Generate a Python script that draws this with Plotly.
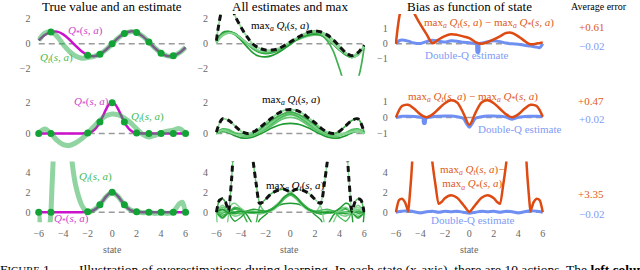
import plotly.graph_objects as go

W, H = 640, 270
SERIF = "Liberation Serif"

# ---------------- data ----------------
X = [-6, -5.5, -5, -4.5, -4, -3.5, -3, -2.5, -2, -1.5, -1, -0.5, 0,
     0.5, 1, 1.5, 2, 2.5, 3, 3.5, 4, 4.5, 5, 5.5, 6]
X_TICKS = [-6, -4, -2, 0, 2, 4, 6]

# sampled states (dots)
SAMPLE_X_R1 = [-5, -2, -1, 0, 1, 2, 3, 4, 5]
SAMPLE_Y_R1 = [0.96, -0.91, -0.84, 0.0, 0.84, 0.91, 0.14, -0.76, -0.96]
SAMPLE_X_R23 = [-6, -5, -2, -1, 0, 1, 2, 3, 4, 5, 6]
SAMPLE_Y_R23 = [0, 0, 0.04, 0.74, 2.0, 0.74, 0.04, 0, 0, 0, 0]

# true values
TRUE_R1 = [0.28, 0.71, 0.96, 0.98, 0.76, 0.35, -0.14, -0.6, -0.91, -1.0, -0.84, -0.48, 0.0,
           0.48, 0.84, 1.0, 0.91, 0.6, 0.14, -0.35, -0.76, -0.98, -0.96, -0.71, -0.28]
XG = [-6, -5, -4, -3, -2.5, -2, -1.75, -1.5, -1.25, -1, -0.75, -0.5, -0.25, 0,
      0.25, 0.5, 0.75, 1, 1.25, 1.5, 1.75, 2, 2.5, 3, 4, 5, 6]
TRUE_G = [0, 0, 0, 0, 0, 0.04, 0.09, 0.21, 0.42, 0.74, 1.14, 1.56, 1.88, 2.0,
          1.88, 1.56, 1.14, 0.74, 0.42, 0.21, 0.09, 0.04, 0, 0, 0, 0, 0]

# single estimate (left column)
EST_R1 = [0.28, 0.85, 0.96, 0.6, -0.05, -0.6, -0.98, -1.15, -1.1, -1.0, -0.82, -0.47, 0.0,
          0.47, 0.83, 0.98, 0.9, 0.6, 0.15, -0.34, -0.75, -0.97, -0.97, -0.72, -0.28]
EST_R2 = [0.05, 0.3, 0.0, -0.45, -0.72, -0.78, -0.62, -0.35, 0.02, 0.45, 0.85, 1.15, 1.27,
          1.2, 1.0, 0.7, 0.3, -0.05, -0.22, -0.12, 0.05, 0.15, 0.22, 0.32, 0.0]
EST_R3_X = [-6, -5.9, -5.75, -5.5, -5.25, -5.1, -5, -4.9, -4.75, -4.5, -4, -3.5, -3.25, -3,
            -2.75, -2.5, -2.25, -2, -1.5, -1, -0.5, 0, 0.5, 1, 1.5, 2, 2.5, 3, 3.5, 4, 4.5,
            5, 5.25, 5.5, 5.75, 6]
EST_R3_Y = [0, -1.5, -3.5, -5, -4, -1.5, 0, 3, 7, 12, 15, 8, 4.8, 2.8,
            1.6, 0.75, 0.25, 0.02, 0.22, 0.75, 1.55, 1.98, 1.55, 0.75, 0.22, 0.03, -0.05, 0.0,
            -0.12, -0.05, -0.12, 0.0, 0.45, 0.85, 1.0, 0.0]

# all estimates (middle column), row 1
ALL_R1 = [
    [0.15, 0.85, 0.98, 0.85, 0.45, 0.0, -0.42, -0.7, -0.78, -0.72, -0.55, -0.25, 0.08,
     0.4, 0.65, 0.82, 0.9, 0.82, 0.5, 0.0, -0.5, -0.9, -1.1, -0.85, -0.2],
    [0.1, 0.75, 0.92, 0.8, 0.45, 0.05, -0.35, -0.62, -0.7, -0.65, -0.5, -0.25, 0.05,
     0.35, 0.55, 0.72, 0.8, 0.78, 0.5, 0.05, -0.45, -0.85, -1.08, -0.9, -0.15],
    [0.05, 0.65, 0.85, 0.75, 0.42, 0.05, -0.3, -0.55, -0.62, -0.58, -0.45, -0.22, 0.02,
     0.28, 0.48, 0.62, 0.7, 0.68, 0.45, 0.05, -0.4, -0.8, -1.02, -0.88, -0.1],
    [0.2, 0.9, 1.0, 0.75, 0.3, -0.25, -0.75, -1.0, -1.05, -0.95, -0.72, -0.4, -0.05,
     0.3, 0.55, 0.72, 0.78, 0.7, 0.4, -0.05, -0.5, -0.85, -1.0, -0.8, -0.2],
    [0.1, 0.7, 0.9, 0.78, 0.42, 0.02, -0.38, -0.6, -0.65, -0.6, -0.45, -0.2, 0.12,
     0.42, 0.72, 0.95, 1.04, 0.95, 0.72, 0.32, -0.2, -0.72, -1.05, -0.88, -0.15],
    [0.25, 2.9, 3.8, 2.3, 1.35, 0.55, -0.05, -0.35, -0.5, -0.5, -0.45, -0.2, 0.1,
     0.4, 0.7, 0.9, 0.95, 0.8, 0.45, 0.0, -0.45, -0.8, -0.95, -0.7, -0.25],
    [0.15, 0.8, 0.95, 0.8, 0.45, 0.05, -0.35, -0.6, -0.68, -0.6, -0.45, -0.2, 0.1,
     0.4, 0.62, 0.8, 0.85, 0.7, 0.25, -0.6, -2.0, -3.3, -3.6, -2.8, -0.3],
    [0.1, 0.7, 0.88, 0.78, 0.45, 0.05, -0.3, -0.55, -0.62, -0.55, -0.38, -0.12, 0.15,
     0.45, 0.7, 0.88, 0.98, 0.92, 0.7, 0.3, -0.2, -0.7, -1.05, -0.9, -0.2],
]
MAX_R1 = [0.25, 2.9, 3.8, 2.3, 1.35, 0.55, -0.05, -0.35, -0.5, -0.5, -0.4, -0.15, 0.15,
          0.45, 0.72, 0.95, 1.04, 0.95, 0.72, 0.32, -0.2, -0.7, -0.95, -0.7, -0.1]

# all estimates, row 2
ALL_R2 = [
    [0.0, 0.2, 0.15, 0.0, -0.1, -0.12, -0.05, 0.1, 0.35, 0.65, 0.95, 1.2, 1.3,
     1.2, 0.95, 0.65, 0.35, 0.1, -0.05, -0.12, -0.1, 0.0, 0.15, 0.2, 0.0],
    [0.05, 0.3, 0.25, 0.05, -0.1, -0.15, -0.1, 0.05, 0.3, 0.6, 0.9, 1.12, 1.22,
     1.12, 0.9, 0.6, 0.3, 0.05, -0.1, -0.15, -0.1, 0.05, 0.25, 0.3, 0.05],
    [0.0, 0.1, 0.1, 0.05, -0.02, -0.05, 0.0, 0.15, 0.4, 0.72, 1.02, 1.25, 1.35,
     1.25, 1.02, 0.72, 0.4, 0.15, 0.0, -0.05, -0.02, 0.05, 0.1, 0.1, 0.0],
    [0.0, 0.15, 0.05, -0.15, -0.28, -0.3, -0.22, -0.05, 0.15, 0.35, 0.52, 0.62, 0.65,
     0.62, 0.52, 0.35, 0.15, -0.05, -0.22, -0.3, -0.28, -0.15, 0.05, 0.15, 0.0],
    [0.0, 0.25, 0.2, 0.0, -0.15, -0.2, -0.12, 0.05, 0.25, 0.5, 0.78, 0.98, 1.05,
     0.98, 0.78, 0.5, 0.25, 0.05, -0.12, -0.2, -0.15, 0.0, 0.2, 0.25, 0.0],
    [0.08, 0.95, 0.85, 0.5, 0.15, 0.0, 0.05, 0.25, 0.55, 0.85, 1.1, 1.3, 1.4,
     1.3, 1.1, 0.85, 0.55, 0.25, 0.05, -0.05, -0.05, 0.0, 0.1, 0.15, 0.0],
    [0.0, 0.15, 0.1, 0.0, -0.05, -0.05, 0.05, 0.25, 0.55, 0.85, 1.1, 1.3, 1.4,
     1.3, 1.1, 0.85, 0.55, 0.25, 0.05, 0.0, 0.15, 0.5, 0.85, 0.95, 0.08],
    [0.0, 0.2, 0.1, -0.05, -0.1, -0.05, 0.1, 0.35, 0.7, 1.0, 1.3, 1.5, 1.55,
     1.5, 1.3, 1.0, 0.7, 0.35, 0.1, -0.05, -0.1, -0.05, 0.1, 0.2, 0.0],
]
MAX_R2 = [0.08, 0.95, 0.85, 0.5, 0.15, 0.0, 0.1, 0.35, 0.7, 1.0, 1.3, 1.5, 1.55,
          1.5, 1.3, 1.0, 0.7, 0.35, 0.1, 0.0, 0.15, 0.5, 0.85, 0.95, 0.08]

# all estimates, row 3 (each with its own states)
R3_BUNDLE = [
    [0.0, 0.25, 0.0, -0.15, -0.05, 0.1, 0.05, -0.05, 0.05, 0.3, 0.8, 1.45, 1.8,
     1.45, 0.8, 0.3, 0.05, -0.05, 0.05, 0.1, -0.05, -0.15, 0.0, 0.25, 0.0],
    [0.0, -0.6, 0.0, 0.3, 0.1, -0.05, 0.0, 0.05, 0.1, 0.35, 0.85, 1.5, 1.9,
     1.5, 0.85, 0.35, 0.1, 0.05, 0.0, -0.05, 0.1, 0.3, 0.0, -0.6, 0.0],
    [0.0, 0.7, 0.0, -0.4, -0.2, 0.05, 0.1, 0.0, 0.02, 0.25, 0.72, 1.35, 1.7,
     1.35, 0.72, 0.25, 0.02, 0.0, 0.1, 0.05, -0.2, -0.4, 0.0, 0.7, 0.0],
]
R3_LOW_X = [-6, -5.5, -5, -4.5, -4, -3.5, -3, -2.75, -2.5, -2, -1.5, -1, -0.5, 0,
            0.5, 1, 1.5, 2, 2.5, 2.75, 3, 3.5, 4, 4.5, 5, 5.5, 6]
R3_LOW_Y = [0, -0.5, 0, 0.4, 0.3, -0.3, -1.3, -1.5, -0.8, -0.25, 0.3, 0.65, 0.85, 0.9,
            0.85, 0.65, 0.3, -0.25, -0.8, -1.5, -1.3, -0.3, 0.3, 0.4, 0, -0.5, 0]
R3_WL_X = [-6, -5.5, -5.25, -5, -4.9, -4.75, -4.5, -4, -3.5, -3.25, -3, -2.75, -2.5, -2.25,
           -2, -1.5, -1, -0.5, 0, 0.5, 1, 1.5, 2, 2.5, 3, 3.5, 4, 4.5, 5, 5.5, 6]
R3_WL_Y = [0, 0.5, 0.3, 0.05, 1.2, 3.5, 8, 12, 10, 7.5, 5.0, 2.7, 0.9, 0.3,
           0.0, 0.15, 0.6, 1.3, 1.75, 1.4, 0.7, 0.2, 0.0, -0.1, 0.0, 0.05, -0.05, 0.0, 0.05, 0.0, 0.0]
R3_WR_X = [-6, -5.5, -5, -4.5, -4, -3.5, -3, -2.5, -2, -1.5, -1, -0.5, 0, 0.5, 1, 1.5,
           2, 2.25, 2.5, 2.75, 3, 3.25, 3.5, 4, 4.5, 4.75, 4.9, 5, 5.25, 5.5, 6]
R3_WR_Y = [0.0, 0.0, 0.05, 0.0, -0.05, 0.05, 0.0, -0.1, 0.0, 0.2, 0.7, 1.4, 1.75, 1.3, 0.6, 0.15,
           0.0, 0.3, 0.9, 2.7, 5.0, 7.5, 10, 12, 8, 3.5, 1.2, 0.05, 0.3, 0.5, 0]
R3_HL_X = [-6, -5.5, -5, -4.5, -4, -3.5, -3, -2.75, -2.5, -2.25, -2, -1.5, -1, -0.5, 0,
           0.5, 1, 1.5, 2, 2.5, 3, 3.5, 4, 4.5, 5, 5.5, 6]
R3_HL_Y = [0, -0.3, 0.0, 0.5, 0.2, -1.0, -2.2, -1.0, 0.5, 1.0, 1.3, 1.9, 2.2, 2.3, 2.05,
           1.5, 0.8, 0.25, -0.05, -0.2, -0.1, 0.05, 0.1, 0.0, 0.0, 0.1, 0.0]
R3_HR_X = [-6, -5.5, -5, -4.5, -4, -3.5, -3, -2.5, -2, -1.5, -1, -0.5, 0, 0.5, 1, 1.5,
           2, 2.25, 2.5, 2.75, 3, 3.5, 4, 4.5, 5, 5.5, 6]
R3_HR_Y = [0.0, 0.1, 0.0, 0.0, 0.1, 0.05, -0.1, -0.2, -0.05, 0.25, 0.8, 1.5, 2.05, 2.3, 2.2, 1.9,
           1.3, 1.0, 0.5, -1.0, -2.2, -1.0, 0.2, 0.5, 0.0, -0.3, 0]
R3_EL_X = [-6, -5.75, -5.5, -5.25, -5, -4.75, -4.5, -4, -3.5, -3, -2.5, -2, -1.5, -1, -0.5,
           0, 0.5, 1, 1.5, 2, 2.5, 3, 3.5, 4, 4.5, 5, 5.5, 6]
R3_EL_Y = [0.0, 1.2, 1.35, 1.0, 0.1, -0.6, -0.9, -0.5, 0.1, 0.3, 0.2, 0.1, 0.3, 0.75, 1.4,
           1.75, 1.4, 0.75, 0.25, 0.0, -0.05, 0.05, 0.0, -0.1, 0.0, 0.1, -0.1, 0.0]
R3_ER_X = [-6, -5.5, -5, -4.5, -4, -3.5, -3, -2.5, -2, -1.5, -1, -0.5, 0, 0.5, 1, 1.5,
           2, 2.5, 3, 3.5, 4, 4.5, 4.75, 5, 5.25, 5.5, 5.75, 6]
R3_ER_Y = [0.0, -0.1, 0.1, 0.0, -0.1, 0.0, 0.05, -0.05, 0.0, 0.25, 0.75, 1.4, 1.75, 1.4, 0.75, 0.3,
           0.1, 0.2, 0.3, 0.1, -0.5, -0.9, -0.6, 0.1, 1.0, 1.35, 1.2, 0.0]
R3_D1_X = [-6, -5.9, -5.75, -5.5, -5.25, -5, -4.75, -4.5, -4, -3.5, -3, -2.5, -2, -1.5, -1,
           -0.5, 0, 0.5, 1, 1.5, 2, 2.5, 3, 3.5, 4, 4.5, 5, 5.5, 6]
R3_D1_Y = [0, -1.5, -3, -4, -3, -0.2, 0.8, 0.9, 0.4, 0.0, -0.05, 0.0, 0.05, 0.25, 0.75,
           1.5, 1.85, 1.5, 0.75, 0.25, 0.05, 0.0, -0.05, 0.0, 0.1, 0.0, -0.1, 0.3, 0.0]
R3_D2_X = [-6, -5.5, -5, -4.5, -4, -3.5, -3, -2.5, -2, -1.5, -1, -0.5, 0, 0.5, 1, 1.5,
           2, 2.5, 3, 3.5, 4, 4.5, 4.75, 5, 5.25, 5.5, 5.75, 5.9, 6]
R3_D2_Y = [0.0, 0.3, -0.1, 0.0, 0.1, 0.0, -0.05, 0.0, 0.05, 0.25, 0.75, 1.5, 1.85, 1.5, 0.75, 0.25,
           0.05, 0.0, -0.05, 0.0, 0.4, 0.9, 0.8, -0.2, -3, -4, -3, -1.5, 0]
MAX_R3_X = [-6, -5.75, -5.5, -5.25, -5, -4.9, -4.75, -4.5, -4, -3.5, -3.25, -3, -2.75, -2.5,
            -2.25, -2, -1.5, -1, -0.5, 0, 0.5, 1, 1.5, 2, 2.25, 2.5, 2.75, 3, 3.25, 3.5,
            4, 4.5, 4.75, 4.9, 5, 5.25, 5.5, 5.75, 6]
MAX_R3_Y = [0, 1.2, 1.35, 1.0, 0.1, 1.2, 3.5, 8, 12, 10, 7.5, 5.0, 2.7, 0.9,
            1.0, 1.3, 1.9, 2.2, 2.3, 2.05, 2.3, 2.2, 1.9, 1.3, 1.0, 0.9, 2.7, 5.0, 7.5, 10,
            12, 8, 3.5, 1.2, 0.1, 1.0, 1.35, 1.2, 0]

# bias (right column)
BIAS_R1 = [0.0, 2.6, 3.2, 2.05, 1.3, 0.65, 0.04, 0.3, 0.52, 0.64, 0.6, 0.5, 0.38,
           0.12, 0.0, 0.12, 0.3, 0.5, 0.72, 0.73, 0.5, 0.2, -0.03, 0.02, 0.1]
DQ_R1_X = [-6, -5.75, -5.5, -5, -4.5, -4, -3.5, -3, -2.5, -2, -1.5, -1, -0.5, 0, 0.5, 0.58,
           0.63, 0.77, 0.82, 1, 1.5, 2, 2.5, 3, 3.5, 4, 4.5, 5, 5.5, 5.75, 6]
DQ_R1_Y = [0, 0.2, 0.25, 0.18, 0.05, 0.02, 0.15, 0.24, 0.18, 0.12, 0.2, 0.18, 0.1, 0.08, 0.02, 0.0,
           -0.55, -0.55, 0.0, 0.05, 0.15, 0.2, 0.15, 0.05, 0.0, -0.02, -0.1, -0.15, -0.22, -0.25, 0.0]
BIAS_R2 = [0.0, 0.72, 0.8, 0.55, 0.2, 0.02, 0.2, 0.55, 0.9, 1.08, 0.95, 0.3, -0.45,
           0.3, 0.95, 1.08, 0.9, 0.55, 0.2, 0.02, 0.2, 0.55, 0.8, 0.72, 0.05]
DQ_R2_X = [-6, -5.5, -5, -4.5, -4, -3.8, -3.75, -3.6, -3.55, -3, -2.5, -2, -1.5, -1, -0.5,
           -0.25, 0, 0.25, 0.5, 1, 1.5, 2, 2.5, 3, 3.5, 4, 4.5, 5, 5.5, 6]
DQ_R2_Y = [0, 0.08, 0.08, 0.06, 0.02, 0.0, -0.35, -0.35, -0.05, 0.05, 0.08, 0.1, 0.1, 0.05, -0.05,
           -0.35, -0.6, -0.35, -0.05, 0.05, 0.1, 0.1, 0.08, 0.03, -0.1, 0.02, 0.06, 0.08, 0.08, 0.06]
BIAS_R3_Y = [0, 1.2, 1.35, 1.0, 0.1, 1.2, 3.5, 8, 12, 10, 7.5, 4.8, 2.6, 0.85,
             1.05, 1.4, 1.7, 1.45, 0.75, 0.03, 0.75, 1.45, 1.7, 1.4, 1.05, 0.85, 2.6, 4.8, 7.5, 10,
             12, 8, 3.5, 1.2, 0.1, 1.0, 1.35, 1.2, 0]
DQ_R3 = [0, 0.1, 0.15, 0.05, -0.08, 0.05, 0.1, 0.0, 0.1, 0.05, 0.1, 0.0, -0.1,
         0.0, 0.1, 0.05, 0.1, 0.0, 0.1, 0.05, -0.08, 0.05, 0.15, 0.1, 0.0]

AVG_ERR_MAX = ["+0.61", "+0.47", "+3.35"]
AVG_ERR_DQ = ["\u22120.02", "+0.02", "\u22120.02"]
TITLES = ["True value and an estimate", "All estimates and max", "Bias as function of state"]

# ---------------- layout geometry ----------------
COLS_PX = [(35, 183), (214, 363), (395, 543)]
ROWS_PX = [(13, 75), (95, 150), (161, 222)]
YRANGES = [[[-2.56, 2.4], [-2.56, 2.4], [-2.133, 2.0]],
           [[-1.097, 2.452], [-1.097, 2.452], [-2.0625, 1.375]],
           [[-1.0, 5.1], [-1.0, 5.1], [-1.0, 5.1]]]
YTICKS = [[[-2, 0, 2], [-2, 0, 2], [-1, 0, 1]],
          [[0, 2], [0, 2], [-1, 0, 1]],
          [[0, 2, 4], [0, 2, 4], [0, 2, 4]]]

MAG = "#cc11cc"
EST = "rgba(34,170,68,0.5)"
DOT = "#13a236"
ORANGE = "#dd4a12"
BLUE = "#6f8ff2"
GREENS = ["#2ca43a", "#4cbc5a", "#7dd08a", "#1f9a30", "#63c672", "#92d99c", "#3fb04d", "#85d592"]


def minus(v):
    return str(v).replace("-", "\u2212")


fig = go.Figure()
layout = dict(width=W, height=H, margin=dict(l=0, r=0, t=0, b=0),
              paper_bgcolor="white", plot_bgcolor="white", showlegend=False,
              font=dict(family=SERIF, size=11, color="black"))

for r in range(3):
    for c in range(3):
        i = r * 3 + c + 1
        a, b = COLS_PX[c]
        ppu = (b - a) / 12.0
        t, btm = ROWS_PX[r]
        xk = "xaxis" if i == 1 else "xaxis%d" % i
        yk = "yaxis" if i == 1 else "yaxis%d" % i
        layout[xk] = dict(domain=[(a - 0.1 * ppu) / W, (b + 0.1 * ppu) / W], range=[-6.1, 6.1],
                          anchor="y" if i == 1 else "y%d" % i,
                          showgrid=False, zeroline=False, showline=False, ticks="",
                          tickvals=X_TICKS, ticktext=[minus(v) for v in X_TICKS],
                          showticklabels=(r == 2), ticklabelstandoff=4,
                          tickfont=dict(family=SERIF, size=10, color="#666"))
        layout[yk] = dict(domain=[1 - btm / H, 1 - t / H], range=YRANGES[r][c],
                          anchor="x" if i == 1 else "x%d" % i,
                          showgrid=False, zeroline=False, showline=False, ticks="",
                          tickvals=YTICKS[r][c], ticktext=[minus(v) for v in YTICKS[r][c]],
                          tickfont=dict(family=SERIF, size=10, color="#666"), ticklabelstandoff=6)


def add(r, c, x, y, color, width, dash=None, shape="spline", smoothing=0.9):
    i = r * 3 + c + 1
    line = dict(color=color, width=width, shape=shape)
    if dash:
        line["dash"] = dash
    if shape == "spline":
        line["smoothing"] = smoothing
    fig.add_trace(go.Scatter(x=x, y=y, mode="lines", line=line,
                             xaxis="x" if i == 1 else "x%d" % i,
                             yaxis="y" if i == 1 else "y%d" % i,
                             hoverinfo="skip"))


ZDASH = "6px,4px"
for r in range(3):
    for c in range(3):
        add(r, c, [-6, 6], [0, 0], "#9a9a9a", 1.5, dash=ZDASH, shape="linear")

# left column
add(0, 0, X, TRUE_R1, MAG, 2.5)
add(0, 0, X, EST_R1, EST, 5)
add(1, 0, XG, TRUE_G, MAG, 2.5)
add(1, 0, X, EST_R2, EST, 5)
add(2, 0, XG, TRUE_G, MAG, 2.5)
add(2, 0, EST_R3_X, EST_R3_Y, EST, 5, smoothing=0.6)
fig.add_trace(go.Scatter(x=SAMPLE_X_R1, y=SAMPLE_Y_R1, mode="markers", xaxis="x", yaxis="y",
                         marker=dict(size=7, color=DOT), cliponaxis=False, hoverinfo="skip"))
for r in (1, 2):
    i = r * 3 + 1
    fig.add_trace(go.Scatter(x=SAMPLE_X_R23, y=SAMPLE_Y_R23, mode="markers",
                             xaxis="x%d" % i, yaxis="y%d" % i,
                             marker=dict(size=7, color=DOT), cliponaxis=False, hoverinfo="skip"))

# middle column
for k, ys in enumerate(ALL_R1):
    add(0, 1, X, ys, GREENS[k % len(GREENS)], 1.7)
add(0, 1, X, MAX_R1, "#111", 3, dash="6px,4px")
for k, ys in enumerate(ALL_R2):
    add(1, 1, X, ys, GREENS[k % len(GREENS)], 1.7)
add(1, 1, X, MAX_R2, "#111", 3, dash="6px,4px")
for k, ys in enumerate(R3_BUNDLE):
    add(2, 1, X, ys, GREENS[k], 1.7)
for k, (xs, ys) in enumerate([(R3_LOW_X, R3_LOW_Y), (R3_WL_X, R3_WL_Y), (R3_WR_X, R3_WR_Y),
                              (R3_HL_X, R3_HL_Y), (R3_HR_X, R3_HR_Y), (R3_EL_X, R3_EL_Y),
                              (R3_ER_X, R3_ER_Y), (R3_D1_X, R3_D1_Y), (R3_D2_X, R3_D2_Y)]):
    add(2, 1, xs, ys, GREENS[(k + 3) % len(GREENS)], 1.4, smoothing=0.6)
add(2, 1, MAX_R3_X, MAX_R3_Y, "#111", 3, dash="6px,4px", smoothing=0.6)

# right column
add(0, 2, DQ_R1_X, DQ_R1_Y, BLUE, 3)
add(0, 2, X, BIAS_R1, ORANGE, 2.5)
add(1, 2, DQ_R2_X, DQ_R2_Y, BLUE, 3)
add(1, 2, X, BIAS_R2, ORANGE, 2.5)
add(2, 2, X, DQ_R3, BLUE, 3)
add(2, 2, MAX_R3_X, BIAS_R3_Y, ORANGE, 2.5, smoothing=0.6)

# ---------------- text ----------------
ann = []


def txt(px, py, text, size=11, color="black", xanchor="center", yanchor="middle"):
    ann.append(dict(x=px / W, y=1 - py / H, xref="paper", yref="paper", text=text,
                    showarrow=False, xanchor=xanchor, yanchor=yanchor,
                    font=dict(size=size, color=color, family=SERIF)))


QSTAR = "<i>Q</i><sub>*</sub>(<i>s, a</i>)"
QT = "<i>Q<sub>t</sub></i>(<i>s, a</i>)"
MAXQT = "max<sub><i>a</i></sub> " + QT
MAXQS = "max<sub><i>a</i></sub> " + QSTAR

txt(109, 6, TITLES[0], 13)
txt(288, 6, TITLES[1], 13)
txt(469, 6, TITLES[2], 13)
txt(600, 6, "Average error", 10)

txt(82, 30, QSTAR, 11, "#cc44cc")
txt(53, 57, QT, 11, "#44bb55")
txt(88, 101, QSTAR, 11, "#cc44cc")
txt(145, 116, QT, 11, "#44bb55")
txt(92, 177, QT, 11, "#44bb55")
txt(68, 219, QSTAR, 11, "#cc44cc")

txt(279, 25, MAXQT, 11)
txt(290, 99, MAXQT, 11)
txt(294, 186, MAXQT, 11)

txt(489, 22, MAXQT + " \u2212 " + MAXQS, 11, "#e05a20")
txt(473, 96, MAXQT + " \u2212 " + MAXQS, 11, "#e05a20")
txt(472, 177, MAXQT + "\u2212<br>" + MAXQS, 11, "#e05a20")
txt(467, 54, "Double-Q estimate", 11, "#7f9cf5")
txt(520, 128, "Double-Q estimate", 11, "#7f9cf5")
txt(473, 220, "Double-Q estimate", 11, "#7f9cf5")

for py, s in zip([26, 100, 194], AVG_ERR_MAX):
    txt(592, py, s, 11, "#e05a20")
for py, s in zip([45, 118, 214], AVG_ERR_DQ):
    txt(592, py, s, 11, "#7f9cf5")

for cx in (109, 288, 469):
    txt(cx, 249, "state", 10, "#666")

txt(-6, 260, "F<span style='font-size:10.5px'>IGURE</span> 1.", 13.5, "black", "left", "top")
txt(74, 260, "Illustration of overestimations during learning. In each state (x-axis), there are "
             "10 actions. The <b>left column</b> shows the true values", 13.5, "black", "left", "top")

layout["annotations"] = ann
fig.update_layout(**layout)
fig.write_html("out.html", config={"displayModeBar": False},
               post_script="document.body.style.margin='0px';")
